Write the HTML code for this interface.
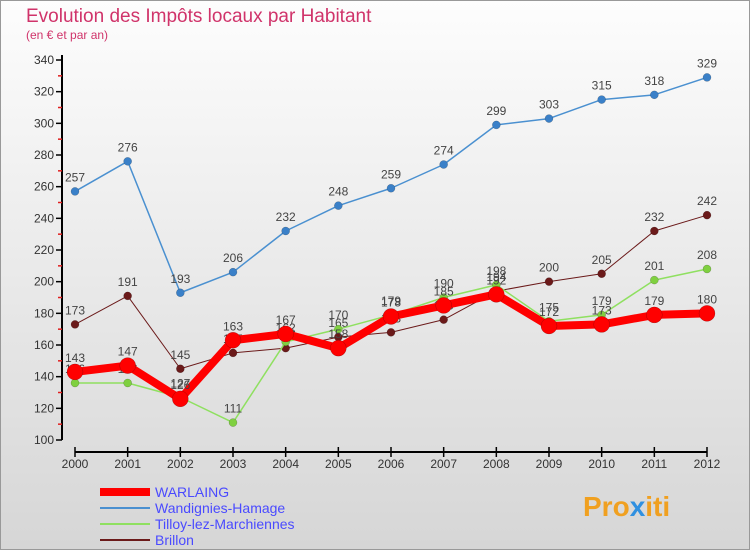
<!DOCTYPE html>
<html><head><meta charset="utf-8"><style>
body{margin:0;width:750px;height:550px;overflow:hidden;font-family:"Liberation Sans",sans-serif}
</style></head><body>
<svg id="c" width="750" height="550" xmlns="http://www.w3.org/2000/svg">
<defs><linearGradient id="bg" x1="0" y1="0" x2="0" y2="1"><stop offset="0" stop-color="#fdfdfd"/><stop offset="1" stop-color="#d6d6d6"/></linearGradient></defs>
<rect x="0.5" y="0.5" width="749" height="549" fill="url(#bg)" stroke="#999"/>
<text x="26" y="22" font-size="19" fill="#d0336a">Evolution des Impôts locaux par Habitant</text>
<text x="26" y="39" font-size="12" fill="#d0336a">(en € et par an)</text>
<g id="axes"></g><g id="series"></g>
<g>
<rect x="100" y="488" width="50" height="8" fill="#ff0000"/>
<text x="155" y="497" font-size="14" fill="#4a4aff">WARLAING</text>
<line x1="100" y1="508" x2="150" y2="508" stroke="#4a90d0" stroke-width="2"/>
<text x="155" y="513" font-size="14" fill="#4a4aff">Wandignies-Hamage</text>
<line x1="100" y1="524" x2="150" y2="524" stroke="#8fe060" stroke-width="2"/>
<text x="155" y="529" font-size="14" fill="#4a4aff">Tilloy-lez-Marchiennes</text>
<line x1="100" y1="540" x2="150" y2="540" stroke="#6b1a1a" stroke-width="2"/>
<text x="155" y="545" font-size="14" fill="#4a4aff">Brillon</text>
</g>
<text x="583" y="516" font-size="28" font-weight="bold" fill="#f0a020">Pro<tspan fill="#3090e0">x</tspan>iti</text>
</svg>
<script>
const years=[2000,2001,2002,2003,2004,2005,2006,2007,2008,2009,2010,2011,2012];
const warlaing=[143,147,126,163,167,158,178,185,192,172,173,179,180];
const wandignies=[257,276,193,206,232,248,259,274,299,303,315,318,329];
const tilloy=[136,136,127,111,162,170,179,190,198,175,179,201,208];
const brillon=[173,191,145,155,158,165,168,176,194,200,205,232,242];
const yTicks=[100,120,140,160,180,200,220,240,260,280,300,320,340];
const NS="http://www.w3.org/2000/svg";
const xs=i=>75+i*(707-75)/12;
const ys=v=>440-(v-100)*(380/240);
function mk(t,a,p){const e=document.createElementNS(NS,t);for(const k in a)e.setAttribute(k,a[k]);p.appendChild(e);return e;}
const ax=document.getElementById('axes');
const yl=mk('line',{x1:62,y1:55,x2:62,y2:440,stroke:'#000','stroke-width':2},ax);


yTicks.forEach((v,i)=>{const y=ys(v);
mk('line',{x1:56,y1:y,x2:62,y2:y,stroke:'#000','stroke-width':1.5},ax);
if(i<yTicks.length-1)mk('line',{x1:58,y1:ys(v+10),x2:62,y2:ys(v+10),stroke:'#e02020','stroke-width':1.5},ax);
const t=mk('text',{x:54,y:y+4,'font-size':12,'text-anchor':'end',fill:'#333'},ax);t.textContent=v;

});
const xl=mk('line',{x1:75,y1:452,x2:707,y2:452,stroke:'#000','stroke-width':2},ax);


years.forEach((yr,i)=>{const x=xs(i);mk('line',{x1:x,y1:447,x2:x,y2:457,stroke:'#000','stroke-width':1.5},ax);
const t=mk('text',{x:x,y:468,'font-size':12,'text-anchor':'middle',fill:'#333'},ax);t.textContent=yr;

});
const sg=document.getElementById('series');
function series(name,vals,col,w,r,dot){
const g=mk('g',{},sg);


mk('polyline',{points:vals.map((v,i)=>xs(i)+','+ys(v)).join(' '),fill:'none',stroke:col,'stroke-width':w,'stroke-linejoin':'round'},g);
vals.forEach((v,i)=>{const c=mk('circle',{cx:xs(i),cy:ys(v),r:r,fill:dot,stroke:'rgba(0,0,0,0.3)','stroke-width':0.5},g);


const t=mk('text',{x:xs(i),y:ys(v)-10,'font-size':12,'text-anchor':'middle',fill:'#444'},g);t.textContent=v;});}
series('series-brillon',brillon,'#6b1a1a',1,4,'#6b1a1a');
series('series-tilloy',tilloy,'#8fe060',1.5,4,'#7fd040');
series('series-wandignies',wandignies,'#4a90d0',1.5,4,'#3a80c8');
series('series-warlaing',warlaing,'#ff0000',8,8,'#ff0000');
</script>
</body></html>
